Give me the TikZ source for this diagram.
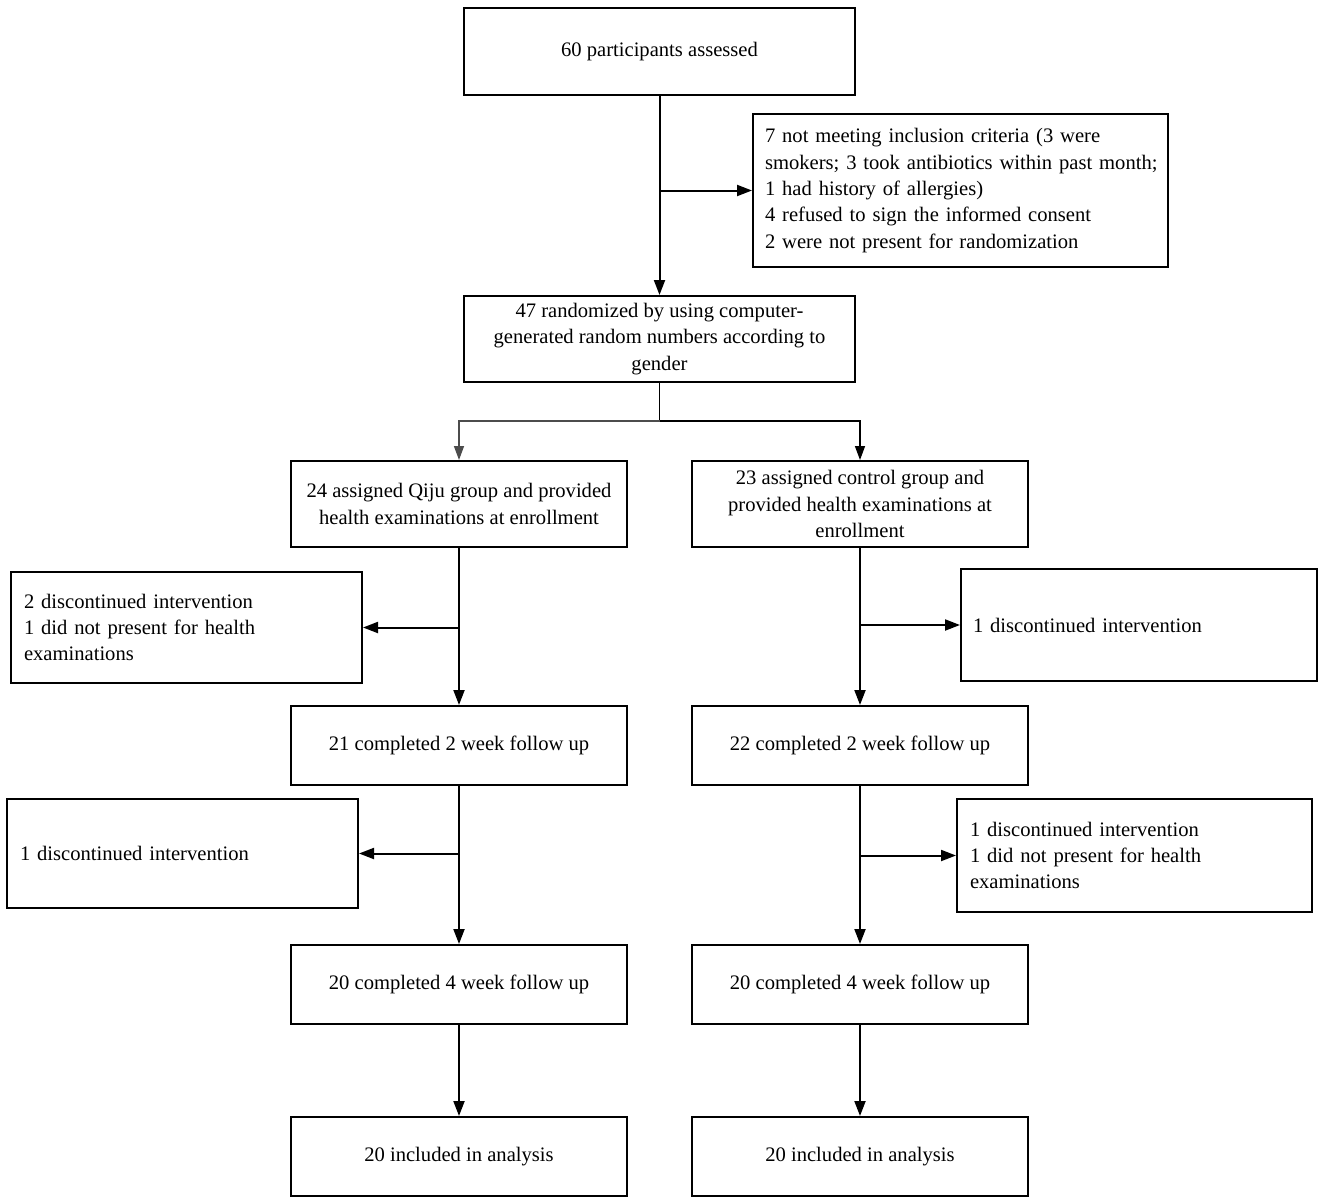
\documentclass[tikz,border=0pt]{standalone}
\usepackage{fontspec}
\setmainfont{Liberation Serif}
\usetikzlibrary{arrows.meta}
\begin{document}
\begin{tikzpicture}[x=1pt,y=-1pt,
  box/.style={draw,line width=2pt,inner sep=0pt,align=center,
    font=\fontsize{20.6}{26.3}\selectfont},
  arr/.style={line width=2pt,-{Triangle[length=15pt,width=11pt]}},
  thinarr/.style={line width=1.4pt,-{Triangle[length=14pt,width=10pt]}}]
\useasboundingbox (0,0) rectangle (1325,1204);
\node[box,minimum width=391pt,minimum height=87pt] (A) at (659.5,51.5) {60 participants assessed};
\node[box,minimum width=415pt,minimum height=153pt,align=left,text width=391pt] (X) at (960.5,190.5)
 {7 not meeting inclusion criteria (3 were\\\mbox{smokers; 3 took antibiotics within past month;}\\1 had history of allergies)\\4 refused to sign the informed consent\\2 were not present for randomization};
\node[box,minimum width=391pt,minimum height=86pt] (B) at (659.5,339)
 {47 randomized by using computer-\\generated random numbers according to\\gender};
\node[box,minimum width=336pt,minimum height=86pt] (C1) at (459,504)
 {24 assigned Qiju group and provided\\health examinations at enrollment};
\node[box,minimum width=336pt,minimum height=86pt] (C2) at (860,504)
 {23 assigned control group and\\provided health examinations at\\enrollment};
\node[box,minimum width=351pt,minimum height=111pt,align=left,text width=325pt] (L1) at (186.5,627.5)
 {2 discontinued intervention\\1 did not present for health\\examinations};
\node[box,minimum width=356pt,minimum height=112pt,align=left,text width=332pt] (R1) at (1139,625)
 {1 discontinued intervention};
\node[box,minimum width=336pt,minimum height=79pt] (D1) at (459,745.5) {21 completed 2 week follow up};
\node[box,minimum width=336pt,minimum height=79pt] (D2) at (860,745.5) {22 completed 2 week follow up};
\node[box,minimum width=351pt,minimum height=109pt,align=left,text width=325pt] (L2) at (182.5,853.5)
 {1 discontinued intervention};
\node[box,minimum width=355pt,minimum height=113pt,align=left,text width=329pt] (R2) at (1134.5,855.5)
 {1 discontinued intervention\\1 did not present for health\\examinations};
\node[box,minimum width=336pt,minimum height=79pt] (E1) at (459,984.5) {20 completed 4 week follow up};
\node[box,minimum width=336pt,minimum height=79pt] (E2) at (860,984.5) {20 completed 4 week follow up};
\node[box,minimum width=336pt,minimum height=79pt] (F1) at (459,1156.5) {20 included in analysis};
\node[box,minimum width=336pt,minimum height=79pt] (F2) at (860,1156.5) {20 included in analysis};
% connectors
\draw[arr] (A.south) -- (B.north);
\draw[arr] (A.south |- X.west) -- (X.west);
\coordinate (sp) at ([yshift=-38pt]B.south);
\draw[line width=1.4pt] (B.south) -- (sp);
\draw[thinarr,black!70] (sp) -| (C1.north);
\draw[thinarr] (sp) -| (C2.north);
\draw[arr] (C1.south) -- (D1.north);
\draw[arr] (C1.south |- L1.east) -- (L1.east);
\draw[arr] (C2.south) -- (D2.north);
\draw[arr] (C2.south |- R1.west) -- (R1.west);
\draw[arr] (D1.south) -- (E1.north);
\draw[arr] (D1.south |- L2.east) -- (L2.east);
\draw[arr] (D2.south) -- (E2.north);
\draw[arr] (D2.south |- R2.west) -- (R2.west);
\draw[arr] (E1.south) -- (F1.north);
\draw[arr] (E2.south) -- (F2.north);
\end{tikzpicture}
\end{document}
